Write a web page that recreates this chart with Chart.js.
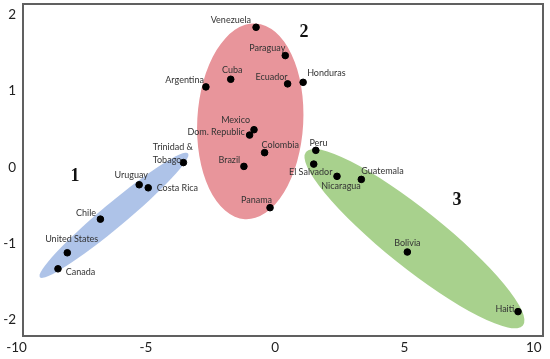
<!DOCTYPE html>
<html lang="en">
<head>
    <meta charset="UTF-8">
    <title>Country clusters</title>
    <script src="https://cdn.jsdelivr.net/npm/chart.js"></script>
    <style>
        body {
            margin: 0;
            background: #ffffff;
        }
        #wrap {
            width: 550px;
            height: 359px;
            position: relative;
        }
    </style>
</head>
<body>
    <div id="wrap">
        <canvas id="chart"></canvas>
    </div>

    <script>
        // data
        const countries = ["Venezuela", "Paraguay", "Cuba", "Ecuador", "Honduras", "Argentina",
            "Mexico", "Dom. Republic", "Colombia", "Brazil", "Panama", "Peru", "El Salvador",
            "Nicaragua", "Guatemala", "Bolivia", "Haiti", "Trinidad &\nTobago", "Uruguay",
            "Costa Rica", "Chile", "United States", "Canada"];
        const xValues = [-0.74, 0.39, -1.72, 0.48, 1.08, -2.68, -0.82, -0.99, -0.41, -1.21, -0.20,
            1.57, 1.49, 2.39, 3.33, 5.11, 9.39, -3.55, -5.26, -4.91, -6.76, -8.04, -8.40];
        const yValues = [1.83, 1.46, 1.15, 1.09, 1.11, 1.05, 0.49, 0.42, 0.19, 0.01, -0.53,
            0.22, 0.04, -0.12, -0.16, -1.11, -1.89, 0.06, -0.23, -0.27, -0.68, -1.12, -1.33];
        const xTicks = [-10, -5, 0, 5, 10];
        const yTicks = [-2, -1, 0, 1, 2];

        // clusters: name, ends of the long axis (data units)
        const clusterNames = ["1", "2", "3"];
        const clusterNamePos = [[-7.74, -0.12], [1.11, 1.76], [7.03, -0.44]];
        const clusterEnds = [
            [[-9.10, -1.44], [-3.37, 0.18]],
            [[-0.76, 1.88], [-1.17, -0.68]],
            [[1.19, 0.20], [9.58, -2.07]]
        ];

        // style only: half width of each ellipse in px, colours, label placement
        const clusterHalfWidth = [12, 53, 29];
        const clusterColors = ["#aec3e8", "#e8959b", "#a8d18d"];
        const labelPlacement = [
            ["right", -5, -7], ["right", 0, -7.5], ["center", 1.6, -9], ["right", 0, -6.6],
            ["left", 4, -9.7], ["right", -2, -7], ["right", -4, -10], ["right", -4.7, -2.7],
            ["left", -3, -8], ["right", -3.7, -6], ["right", 2, -8], ["left", -6.4, -7.7],
            ["center", -3, 8.4], ["center", 4, 10], ["left", 0, -8.3], ["center", 0, -9.4],
            ["right", -3.7, -3], ["left", -30.6, -15.4], ["center", -8, -9.3], ["left", 8.4, 0.6],
            ["right", -4.3, -6.3], ["center", 4.4, -13.4], ["left", 7.7, 3.3]
        ];

        const points = countries.map((c, i) => ({ x: xValues[i], y: yValues[i] }));

        // no extra room for first/last tick labels, the plot box is fixed
        function fixBox(size) {
            return s => {
                if (s.isHorizontal()) s.height = size; else s.width = size;
                s.paddingTop = 0;
                s.paddingBottom = 0;
                s.paddingLeft = 0;
                s.paddingRight = 0;
            };
        }

        const ellipsePlugin = {
            id: 'ellipses',
            beforeDatasetsDraw(chart) {
                const ctx = chart.ctx;
                const xs = chart.scales.x, ys = chart.scales.y;
                ctx.save();
                // plot box edges taken from the scales
                const left = Math.round(xs.getPixelForValue(xs.min));
                const right = Math.round(xs.getPixelForValue(xs.max));
                const top = Math.round(ys.getPixelForValue(ys.max));
                const bottom = Math.round(ys.getPixelForValue(ys.min));
                ctx.fillStyle = '#606060';
                ctx.fillRect(left - 1, top - 1, right - left + 2, 2);
                ctx.fillRect(left - 1, bottom - 1, right - left + 2, 2);
                ctx.fillRect(left - 1, top - 1, 2, bottom - top + 2);
                ctx.fillRect(right - 1, top - 1, 2, bottom - top + 2);

                clusterEnds.forEach((ends, i) => {
                    const x1 = xs.getPixelForValue(ends[0][0]), y1 = ys.getPixelForValue(ends[0][1]);
                    const x2 = xs.getPixelForValue(ends[1][0]), y2 = ys.getPixelForValue(ends[1][1]);
                    const cx = (x1 + x2) / 2, cy = (y1 + y2) / 2;
                    const a = Math.hypot(x2 - x1, y2 - y1) / 2;
                    const ang = Math.atan2(y2 - y1, x2 - x1);
                    ctx.beginPath();
                    ctx.ellipse(cx, cy, a, clusterHalfWidth[i], ang, 0, Math.PI * 2);
                    ctx.fillStyle = clusterColors[i];
                    ctx.fill();
                });
                ctx.restore();
            },
            afterDraw(chart) {
                const ctx = chart.ctx;
                const xs = chart.scales.x, ys = chart.scales.y;
                ctx.save();
                // country labels
                ctx.font = '9px Lato';
                ctx.fillStyle = '#333333';
                ctx.textBaseline = 'middle';
                countries.forEach((name, i) => {
                    const px = xs.getPixelForValue(xValues[i]);
                    const py = ys.getPixelForValue(yValues[i]);
                    const p = labelPlacement[i];
                    ctx.textAlign = p[0];
                    name.split('\n').forEach((line, k) => {
                        ctx.fillText(line, px + p[1], py + p[2] + k * 12.7);
                    });
                });

                // cluster numbers
                ctx.font = 'bold 18px "Liberation Serif"';
                ctx.fillStyle = '#111111';
                ctx.textAlign = 'center';
                clusterNames.forEach((n, i) => {
                    ctx.fillText(n, xs.getPixelForValue(clusterNamePos[i][0]), ys.getPixelForValue(clusterNamePos[i][1]));
                });
                ctx.restore();
            }
        };

        new Chart(document.getElementById('chart'), {
            type: 'scatter',
            data: {
                datasets: [{
                    data: points,
                    backgroundColor: '#000000',
                    borderColor: '#000000',
                    pointRadius: 3.3,
                    pointHoverRadius: 3.3
                }]
            },
            options: {
                responsive: true,
                maintainAspectRatio: false,
                animation: false,
                layout: { padding: { top: 4, right: 7, left: 0, bottom: 0 } },
                plugins: {
                    legend: { display: false },
                    tooltip: { enabled: false }
                },
                scales: {
                    x: {
                        type: 'linear',
                        min: -9.753,
                        max: 10.356,
                        grid: { display: false, drawTicks: false },
                        border: { display: false },
                        afterBuildTicks: s => { s.ticks = xTicks.map(v => ({ value: v })); },
                        afterFit: fixBox(23),
                        ticks: {
                            padding: 4,
                            color: '#222222',
                            font: { family: 'Lato', size: 13.5 }
                        }
                    },
                    y: {
                        type: 'linear',
                        min: -2.209,
                        max: 2.131,
                        grid: { display: false, drawTicks: false },
                        border: { display: false },
                        afterBuildTicks: s => { s.ticks = yTicks.map(v => ({ value: v })); },
                        afterFit: fixBox(23),
                        ticks: {
                            padding: 7,
                            color: '#222222',
                            font: { family: 'Lato', size: 13.5 }
                        }
                    }
                }
            },
            plugins: [ellipsePlugin]
        });
    </script>
</body>
</html>
